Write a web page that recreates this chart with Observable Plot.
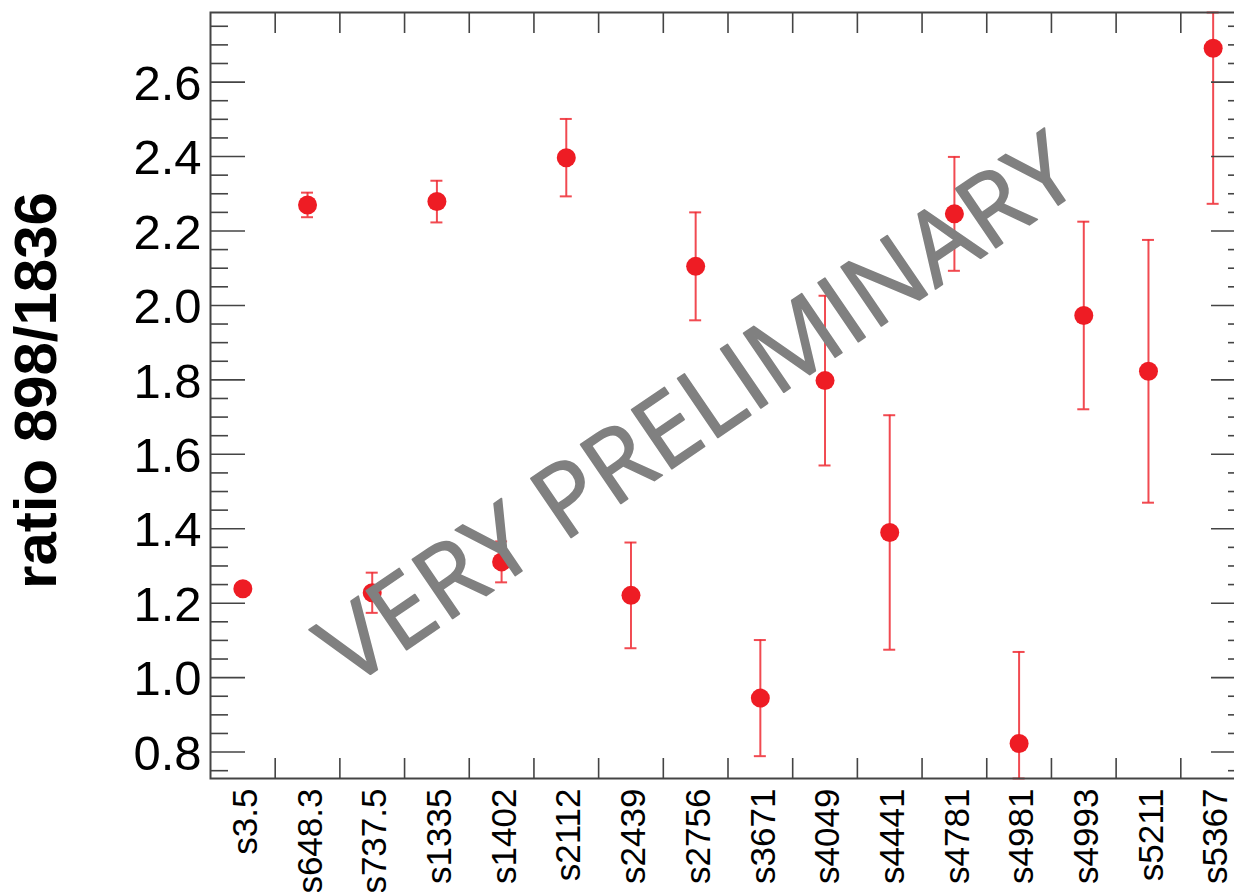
<!DOCTYPE html>
<html>
<head>
<meta charset="utf-8">
<script src="https://cdn.jsdelivr.net/npm/d3@7"></script>
<script src="https://cdn.jsdelivr.net/npm/@observablehq/plot@0.6"></script>
<style>
  html, body { margin: 0; padding: 0; background: #fff; overflow: hidden; }
  #chart svg { display: block; max-width: none; }
</style>
</head>
<body>
<div id="chart"></div>
<script>
// ---- data ----
const categories = ["s3.5","s648.3","s737.5","s1335","s1402","s2112","s2439","s2756",
                    "s3671","s4049","s4441","s4781","s4981","s4993","s5211","s5367"];
const ratios = [1.239, 2.270, 1.228, 2.279, 1.311, 2.397, 1.221, 2.105,
                0.945, 1.798, 1.390, 2.246, 0.823, 1.973, 1.823, 2.691];
const errors = [0.005, 0.033, 0.054, 0.056, 0.055, 0.104, 0.142, 0.145,
                0.156, 0.228, 0.315, 0.153, 0.246, 0.252, 0.353, 0.418];
const yTicks = [0.8, 1.0, 1.2, 1.4, 1.6, 1.8, 2.0, 2.2, 2.4, 2.6];
const yLabel = "ratio 898/1836";
const watermark = "VERY PRELIMINARY";

const yDomain = [0.729, 2.787];
const yMinor = d3.range(0.75, 2.78, 0.05).map(v => +v.toFixed(2))
  .filter(v => !yTicks.some(t => Math.abs(t - v) < 1e-6));
const xIndex = categories.map((c, i) => i);
const xBounds = d3.range(1, categories.length).map(k => k - 0.5);

const data = categories.map((name, i) => ({
  i, name,
  ratio: ratios[i],
  lo: Math.max(ratios[i] - errors[i], yDomain[0]),
  hi: Math.min(ratios[i] + errors[i], yDomain[1])
}));

const red = "#ee1c24";
const barRed = "#ee2a32";
const axisColor = "#444";

const chart = Plot.plot({
  width: 1234,
  height: 892,
  marginLeft: 210,
  marginRight: -11,
  marginTop: 12,
  marginBottom: 114,
  style: {fontFamily: "'Liberation Sans', Arial, Helvetica, sans-serif", color: "#000", background: "#fff"},
  x: {type: "linear", domain: [-0.5, categories.length - 0.5]},
  y: {type: "linear", domain: yDomain},
  marks: [
    // error bars
    Plot.ruleX(data, {x: "i", y1: "lo", y2: "hi", stroke: barRed, strokeWidth: 2, strokeOpacity: 0.85}),
    Plot.ruleY(data, {y: "lo", x1: "i", x2: "i", insetLeft: -6, insetRight: -6, stroke: barRed, strokeWidth: 2, strokeOpacity: 0.85}),
    Plot.ruleY(data, {y: "hi", x1: "i", x2: "i", insetLeft: -6, insetRight: -6, stroke: barRed, strokeWidth: 2, strokeOpacity: 0.85}),
    // points
    Plot.dot(data, {x: "i", y: "ratio", r: 9.5, fill: red, stroke: null}),
    // frame
    Plot.frame({stroke: axisColor, strokeWidth: 2}),
    // y ticks (left, inward)
    Plot.axisY({anchor: "left", ticks: yTicks, tickSize: 35, dx: 35, fill: "none", label: null, stroke: axisColor, strokeWidth: 1.6}),
    Plot.axisY({anchor: "left", ticks: yMinor, tickSize: 18, dx: 18, fill: "none", label: null, stroke: axisColor, strokeWidth: 1.6}),
    // y ticks (right, inward)
    Plot.axisY({anchor: "right", ticks: yTicks, tickSize: 35, dx: -35, fill: "none", label: null, stroke: axisColor, strokeWidth: 1.6}),
    Plot.axisY({anchor: "right", ticks: yMinor, tickSize: 18, dx: -18, fill: "none", label: null, stroke: axisColor, strokeWidth: 1.6}),
    // y labels
    Plot.axisY({anchor: "left", ticks: yTicks, tickSize: 0, tickPadding: 9, tickFormat: d3.format(".1f"), fontSize: 49, label: null, fill: "#000", dy: 2}),
    // x ticks at category boundaries (bottom & top, inward)
    Plot.axisX({anchor: "bottom", ticks: xBounds, tickSize: 20, dy: -20, fill: "none", label: null, stroke: axisColor, strokeWidth: 1.6}),
    Plot.axisX({anchor: "top", ticks: xBounds, tickSize: 20, dy: 20, fill: "none", label: null, stroke: axisColor, strokeWidth: 1.6}),
    // x labels
    Plot.axisX({anchor: "bottom", ticks: xIndex, tickSize: 0, tickPadding: 10, tickRotate: -90, dx: 3,
                tickFormat: i => categories[i], fontSize: 35, label: null, fill: "#000"}),
    // y axis title
    Plot.text([yLabel], {frameAnchor: "left", textAnchor: "middle", rotate: -90, dx: -174, dy: -5,
                         fontSize: 60, fontWeight: "bold", fill: "#000"}),
    // watermark
    Plot.text([watermark], {frameAnchor: "middle", textAnchor: "middle", rotate: -34.3, dx: -29, dy: 16, fontSize: 100,
                            fontFamily: "'Open Sans', sans-serif", fill: "#808080",
                            stroke: "#808080", strokeWidth: 1.6, strokeLinejoin: "round"})
  ]
});
document.getElementById("chart").appendChild(chart);
</script>
</body>
</html>
